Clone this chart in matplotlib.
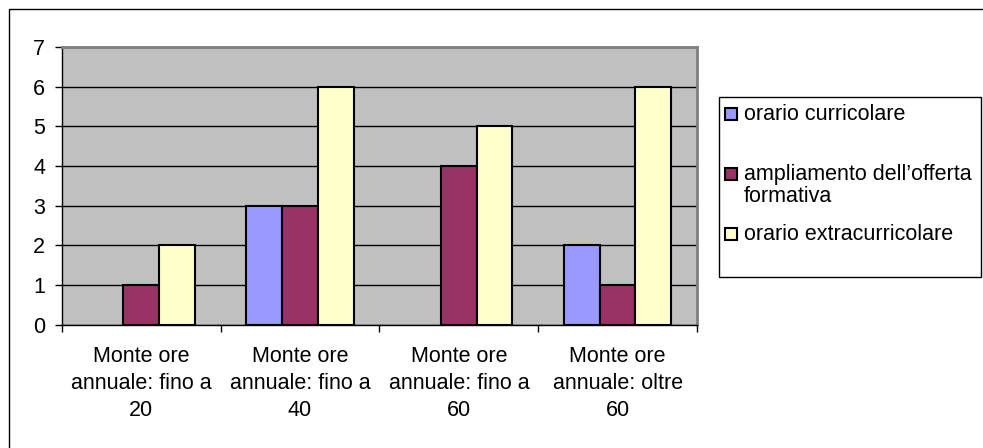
import matplotlib.pyplot as plt
import numpy as np
from matplotlib.patches import Rectangle
from matplotlib.lines import Line2D

plt.rcParams['font.family'] = ['Liberation Sans', 'DejaVu Sans']
plt.rcParams['font.size'] = 15.5

# dati
categorie = ['Monte ore\nannuale: fino a\n20', 'Monte ore\nannuale: fino a\n40',
             'Monte ore\nannuale: fino a\n60', 'Monte ore\nannuale: oltre\n60']
serie = ['orario curricolare', 'ampliamento dell\u2019offerta\nformativa', 'orario extracurricolare']
curricolare = [0, 3, 0, 2]
ampliamento = [1, 3, 4, 1]
extracurricolare = [2, 6, 5, 6]
colori = ['#9999FF', '#993366', '#FFFFCC']

fig = plt.figure(figsize=(9.83, 4.48), dpi=100)
ax = fig.add_axes([0.063, 0.275, 0.646, 0.62])
ax.set_facecolor('#C0C0C0')

x = np.arange(len(categorie))
w = 0.225
valori = [curricolare, ampliamento, extracurricolare]
for i, v in enumerate(valori):
    v = np.array(v, dtype=float)
    m = v > 0  # Excel non disegna le barre a zero
    ax.bar(x[m] + (i - 1) * w, v[m], w, color=colori[i], edgecolor='black', linewidth=1.5, zorder=3)

ax.set_ylim(0, 7)
ax.set_yticks(range(0, 8))
ax.yaxis.grid(True, color='black', linewidth=1, zorder=1)
ax.set_axisbelow(True)

ax.set_xlim(-0.5, len(categorie) - 0.5)
ax.set_xticks(np.arange(-0.5, len(categorie)), labels=[''] * (len(categorie) + 1))
ax.set_xticks(x, labels=categorie, minor=True)
ax.tick_params(axis='x', which='minor', length=0, pad=15)
ax.tick_params(axis='x', which='major', length=5, width=1, color='black')
ax.tick_params(axis='y', length=5, width=1, pad=7)
for t in ax.get_xticklabels(minor=True):
    t.set_linespacing(1.4)

for s in ['top', 'right']:
    ax.spines[s].set_color('#808080')
    ax.spines[s].set_linewidth(2)
for s in ['left', 'bottom']:
    ax.spines[s].set_color('black')
    ax.spines[s].set_linewidth(1)

# legenda disegnata a mano, stile Excel
W, H = 983, 448
def fx(px):
    return px / W
def fy(py):
    return 1 - py / H

fig.patches.append(Rectangle((fx(719), fy(277)), fx(981) - fx(719), fy(97) - fy(277),
                             transform=fig.transFigure, facecolor='white',
                             edgecolor='black', linewidth=1))
quadrati = [114, 174, 234]
testi = [114, 185.5, 234]
for c, lab, yq, yt in zip(colori, serie, quadrati, testi):
    fig.patches.append(Rectangle((fx(725), fy(yq + 6)), fx(12), 12 / H,
                                 transform=fig.transFigure, facecolor=c,
                                 edgecolor='black', linewidth=1.5))
    fig.text(fx(744), fy(yt), lab, va='center', ha='left', fontsize=15.5, linespacing=1.1)

# bordo della figura (solo sinistra e in alto sono visibili)
fig.lines.append(Line2D([fx(9), fx(9), 1], [0, fy(9), fy(9)], transform=fig.transFigure,
                        color='black', linewidth=1))

fig.savefig('out.png', dpi=100)
